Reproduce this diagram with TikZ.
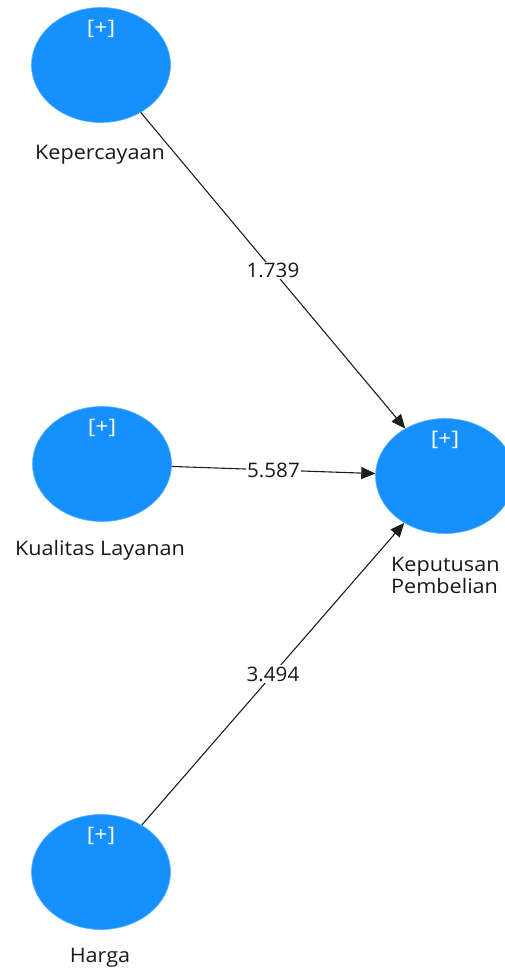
\documentclass[tikz,border=0pt]{standalone}
\usepackage{fontspec}
\setmainfont{Open Sans}
\usepackage{xcolor}
\usepackage{tikz}
\usetikzlibrary{positioning, arrows.meta, shapes.geometric, calc}
\definecolor{lvblue}{RGB}{22,144,255}
\definecolor{pathgray}{RGB}{30,30,30}

\begin{document}
\begin{tikzpicture}[x=1pt, y=-1pt,
  lv/.style={ellipse, fill=lvblue, draw=lvblue!70!white, line width=0.6pt, minimum width=139pt, minimum height=115pt, inner sep=0pt},
  plus/.style={text=white, font=\fontsize{20}{22}\selectfont, xscale=1.15, inner sep=0pt},
  lvname/.style={text=black!90, font=\fontsize{20}{22}\selectfont, xscale=1.08, inner sep=0pt},
  coef/.style={fill=white, text=black!90, font=\fontsize{20}{22}\selectfont, xscale=1.03, inner sep=1.5pt},
  path/.style={draw=pathgray, line width=1.1pt, -{Triangle[length=14pt, width=12pt]}}]
  \useasboundingbox (0, 0) rectangle (504, 975);
  % latent variables
  \node[lv] (kep) at (101, 65) {};
  \node[lv] (kual) at (102, 464) {};
  \node[lv] (harga) at (101, 872) {};
  \node[lv] (kp) at (445, 476) {};
  \foreach \lvn in {kep, kual, harga, kp}
    \node[plus] at ([yshift=-22pt]\lvn.north) {[+]};
  % names
  \node[lvname] at (100, 155) {Kepercayaan};
  \node[lvname] at (100, 550) {Kualitas Layanan};
  \node[lvname] at (100, 958) {Harga};
  \node[lvname, align=left, anchor=north west] at (391, 557) {Keputusan\\Pembelian};
  % paths
  \draw[path] (kep) -- node[coef] {1.739} (kp);
  \draw[path] (kual) -- node[coef] {5.587} (kp);
  \draw[path] (harga) -- node[coef] {3.494} (kp);
\end{tikzpicture}
\end{document}
